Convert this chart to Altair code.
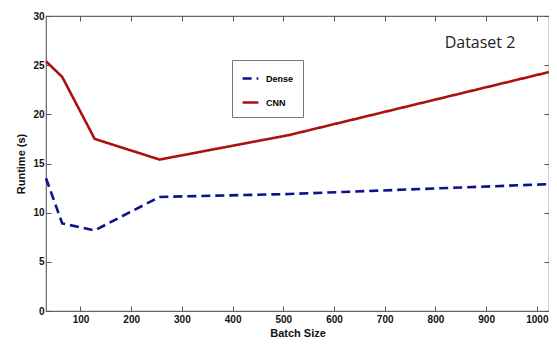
import altair as alt
import pandas as pd

batch = [32, 64, 128, 256, 512, 1024]
dense = [13.5, 8.9, 8.2, 11.6, 11.9, 12.9]
cnn = [25.4, 23.8, 17.5, 15.4, 17.9, 24.3]
series = ["Dense", "CNN"]
x_ticks = [100, 200, 300, 400, 500, 600, 700, 800, 900, 1000]
y_ticks = [0, 5, 10, 15, 20, 25, 30]

rows = []
for b, d, c in zip(batch, dense, cnn):
    rows.append({"Batch Size": b, "Runtime": d, "Model": "Dense"})
    rows.append({"Batch Size": b, "Runtime": c, "Model": "CNN"})
df = pd.DataFrame(rows)

FONT = "Liberation Sans"
xs = alt.Scale(domain=[32, 1024], nice=False, zero=False)
ys = alt.Scale(domain=[0, 30], nice=False)

common_axis = dict(grid=False, domain=False, tickSize=5, offset=-5, tickColor="#555",
                   tickWidth=1, labelFont=FONT, labelFontWeight="bold", labelFontSize=10,
                   labelColor="#111", titleFont=FONT, titleFontWeight="bold",
                   titleFontSize=11, titleColor="#111")

legend_kw = dict(title=None, orient="none", legendX=186, legendY=44,
                 fillColor="white", strokeColor="#777", padding=9,
                 symbolType="stroke", symbolSize=250, symbolStrokeWidth=2.6,
                 labelFont=FONT, labelFontWeight="bold", labelFontSize=9,
                 rowPadding=9, labelOffset=6)

lines = alt.Chart(df).mark_line(strokeWidth=2.6).encode(
    x=alt.X("Batch Size:Q", scale=xs,
            axis=alt.Axis(values=x_ticks, format="d", title="Batch Size", labelPadding=3,
                          titlePadding=3, **common_axis)),
    y=alt.Y("Runtime:Q", scale=ys,
            axis=alt.Axis(values=y_ticks, title="Runtime (s)", labelPadding=2,
                          titlePadding=6, **common_axis)),
    color=alt.Color("Model:N", sort=series,
                    scale=alt.Scale(domain=series, range=["#0a128c", "#aa1111"]),
                    legend=alt.Legend(**legend_kw)),
    strokeDash=alt.StrokeDash("Model:N", sort=series,
                              scale=alt.Scale(domain=series, range=[[9, 5], [1, 0]]),
                              legend=alt.Legend(**legend_kw)),
)

mirror_axis = dict(grid=False, domain=False, labels=False, tickSize=5, offset=-5,
                   tickColor="#555", tickWidth=1, title=None)
mirror = alt.Chart(df).mark_point(opacity=0).encode(
    x=alt.X("Batch Size:Q", scale=xs, axis=alt.Axis(orient="top", values=x_ticks, **mirror_axis)),
    y=alt.Y("Runtime:Q", scale=ys, axis=alt.Axis(orient="right", values=y_ticks, **mirror_axis)),
)

label = alt.Chart(pd.DataFrame({"t": ["Dataset 2"]})).mark_text(
    font="Open Sans", fontSize=16, color="#222", align="center", baseline="middle"
).encode(x=alt.value(434), y=alt.value(27), text="t:N")

chart = alt.layer(lines, mirror, label).resolve_axis(x="independent", y="independent").properties(
    width=503, height=295,
    autosize=alt.AutoSizeParams(type="none"),
    padding={"left": 38, "top": 8, "right": 0, "bottom": 30},
).configure_view(stroke="#666", strokeWidth=1.2)

chart.save("out.html", embed_options={"renderer": "svg", "actions": False})
